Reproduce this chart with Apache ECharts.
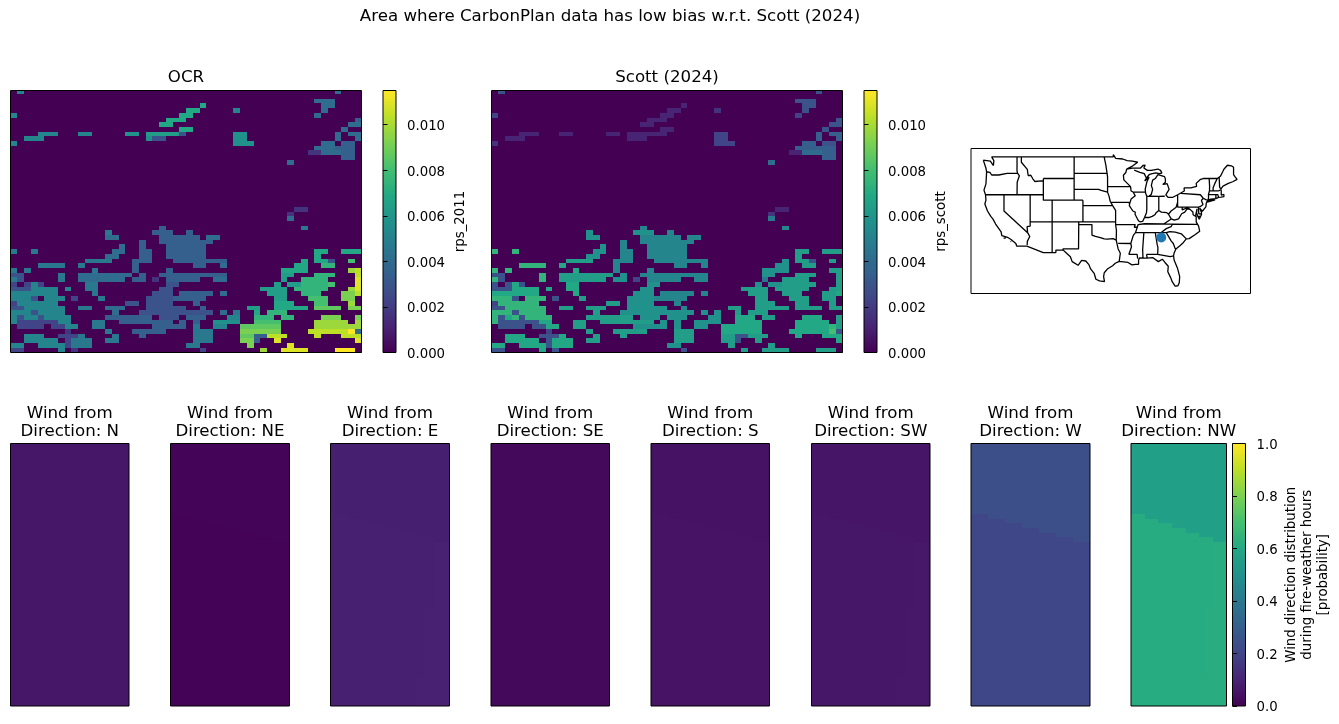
<!DOCTYPE html>
<html>
<head>
<meta charset="utf-8">
<style>html,body{margin:0;padding:0;background:#fff}#chart{width:1339px;height:724px}</style>
<script src="https://cdn.jsdelivr.net/npm/echarts@6/dist/echarts.min.js"></script>
</head>
<body>
<div id="chart"></div>
<script>
// Shared colour scale
const viridis = ['#440154','#482475','#414487','#355f8d','#2a788e','#21918c','#22a884','#44bf70','#7ad151','#bddf26','#fde725'];
const rpsMax = 0.0115;

// Burn-probability levels used by the gridded fields, letter -> rps
const rpsLevels = {a:0.00058,b:0.00115,c:0.00173,d:0.0023,e:0.00288,f:0.00345,g:0.00403,h:0.0046,i:0.00518,j:0.00575,k:0.00633,l:0.0069,m:0.00748,n:0.00805,o:0.00863,p:0.0092,q:0.00978,r:0.01035,s:0.01093,t:0.0115};
const gridCols = 52;

// Non-zero runs per row: "start-endLevel"
const rps2011Rows = [
"1i 48g","","45-47g","28l 46-47g","26-27l 33i 46g","0i 25-26l 45g","23-25l 51f","22-23l 50-51g","25-26l 49g",
"4-6i 10-11i 17-18j 20-24k 25e 33-34j 48g 50-51g","2-4i 20j 21-22e 33-34j 48g 51g","0i 33-35j 46-47g 49-50f",
"45-47g 48-50f","44-45c 46-48g 49-50f","49-50f","41g","","","","","","","","","","42-43c","41c","41g","",
"22f 43h","14h 21-23f 26f","14-15g 22-27f 29-30g","19f 22-29f","16g 19f 23-28f",
"0h 3h 15-16g 19-20f 23-28f 45-46l 49-51l","14-15g 19-20f 23-28f 45l",
"11-14h 18-20f 24-31f 43l 45-46l 47e 50n","4-7h 10h 18f 27-28f 31g 42-43l 46-47m",
"0h 2h 12h 18f 23f 40-43l 50q 51r","0-1e 7h 10-17g 19f 22-31f 40-41k 45-47m 51r",
"0h 1e 7h 10-16g 18-19f 21c 23-27f 30-31g 40k 43-46m 51s",
"0d 2d 3i 4d 11-12h 23-24e 39k 41-42k 43-46m 47n 51s",
"0-2e 3-6i 8i 11-12h 22-23e 37-40k 42-46m 50q 51s",
"0-6i 12h 21-23e 25-29f 31g 38-40k 43-45m 49-50p 51r",
"0-2i 3e 5-7i 9d 13h 20-23e 24-28f 39-40k 44-46n 49-50p",
"0d 1-6i 17-18e 20-23e 27f 39-41l 45-46n 50q",
"0-1e 2-7i 10-11h 14-16g 20-25e 28f 35-36k 39-43l 45-48o 50-51p",
"0-2i 3e 4-7i 15g 19-29e 31g 33h 36l 38-40m",
"0i 1e 2-3i 4e 5-8i 14-20f 22-24e 26-28f 32-33i 36-38m 40-41m 46-48p 51p",
"0i 1-6d 7-8i 12-13h 16-23f 25f 27f 30-33j 36-39n 45-49q 51q",
"1-4d 6-7d 8-9i 12-13h 21-25f 27h 30-31i 34-39o 45-50q 51q",
"8c 14h 18-22f 27-29h 34-39p 44-49r 50t 51g",
"2-4i 7-9d 10h 15h 19f 27-29h 34-35o 36-37f 38-40r 45r 49-50r 51r",
"2-6i 8d 9-11h 14-15h 27-29h 34-35p 36f 39s 51s",
"0-1i 4-7i 8d 9-11h 26-27h 35p 41s",
"0-1d 7i 9c 28d 37q 40-43s 48-50t"
];

const rpsScottRows = [
"1e 48e","","45-47e","28b 46-47e","26-27b 33c 46e","0d 25-26b 45d","23-25b 51e","22-23b 50-51e","25-26b 49e",
"4-6b 10-11b 17-18b 20-24b 25b 33-34d 48f 50-51f","2-4b 20b 21-22b 33-34d 48f 51f","0c 33-35d 46-47f 49-50e",
"45-47f 48-50f","44-45b 46-48g 49-50f","49-50f","41g","","","","","","","","","","42-43b","41c","41h","",
"22i 43i","14j 21-23j 26i","14-15j 22-27i 29-30i","19i 22-29i","16j 19i 23-28i",
"0m 3m 15-16j 19-20i 23-28i 45-46k 49-51k","14-15j 19-20i 23-28i 45k",
"11-14k 18-20i 24-31i 43j 45-46k 47e 50k","4-7m 10l 18i 27-28i 31i 42-43j 46-47k",
"0m 2m 12l 18i 23i 40-43j 50-51k","0-1e 7m 10-17k 19j 22-31i 40-41j 45-47k 51k",
"0m 1e 7m 10-16k 18-19j 21d 23-27i 30-31i 40h 43-46k 51k",
"0e 2e 3l 4e 11-12l 23-24j 39j 41-42j 43-47k 51k",
"0-2e 3-6l 8l 11-12l 22-23j 37-40k 42-46k 50-51k",
"0-6l 12l 21-23j 25-29i 31i 38-40k 43-45k 49-50k 51l",
"0-2m 3e 5-7m 9e 13k 20-23j 24-28i 39-40k 44-46k 49-50k",
"0d 1-6m 17-18k 20-23j 27i 39-41k 45-46k 50k",
"0-1e 2-7m 10-11k 14-16k 20-25j 28i 35-36k 39-43k 45-48k 50-51k",
"0-2m 3e 4-7m 15k 19-29j 31j 33j 36k 38-40k",
"0m 1e 2l 3m 4e 5-8m 14-20k 22-24j 26-28j 32-33j 36-38l 40-41k 46-48l 51k",
"0m 1-6e 7-8l 12-13k 16-23k 25j 27j 30-33j 36-39l 45-49l 51k",
"1-4e 6-7e 8-9l 12-13k 21-25j 27j 30-31j 34-39l 45-49l 50m 51k",
"8d 14k 18-22k 27-29k 34-39l 44-49l 50n 51e",
"2-4l 7-9e 10l 15k 19k 27-29k 34-35k 36-37e 38-40k 45l 49-50l 51l",
"2-6l 8e 9-11l 14-15k 27-29k 34-35k 36e 39k 51l",
"0-1l 4-7l 8e 9-11l 26-27j 35k 41k",
"0-1e 7l 9e 28e 37k 40-43k 48-50k"
];

// Wind rose probabilities per direction
const windDirections = ['N','NE','E','SE','S','SW','W','NW'];
const windNorth = [0.062,0.008,0.085,0.024,0.048,0.058,0.240,0.560];
const windSouth = [0.060,0.006,0.088,0.022,0.050,0.062,0.210,0.615];
const windEast  = [0.062,0.006,0.090,0.024,0.052,0.064,0.212,0.622];
const windRows = 56, windCols = 14;
// First row of the southern band in each pair of columns
const windBandRow = [15,16,17,18,19,20,21];
// First column of the eastern band, every five rows from row 20 down
const windEastCol = [12,12,12,11,11,11,10,10,10];

// State and coastline polylines, lon/lat
const usOutline = [[-124.7,48.4],[-123.1,48.2],[-122.4,47.4],[-122.3,48.3],[-122.8,49],[-95.15,49],[-95.15,49.4],[-94.8,49.3],[-94.6,48.7],[-93,48.6],[-92,48.3],[-90.8,48.2],[-89.6,48],[-90.8,47.3],[-92.1,46.75],[-90.8,46.9],[-90.4,46.55],[-89,46.9],[-88.4,47.4],[-87.9,47.45],[-88.2,46.95],[-87.4,46.5],[-86.5,46.5],[-85,46.75],[-84.4,46.5],[-84.1,46],[-84.7,45.9],[-85.5,46.05],[-86.5,45.85],[-87,45.7],[-87.6,45.1],[-88,44.55],[-87,45.25],[-87.5,44.4],[-87.9,43],[-87.8,42.3],[-87.5,41.7],[-87,41.7],[-86.5,42.1],[-86.2,43],[-86.5,43.7],[-86.2,44.7],[-85.6,45],[-85,45.7],[-84.7,45.78],[-83.5,45.35],[-83.3,44.9],[-83.3,44.3],[-83.9,43.9],[-83.4,43.95],[-82.9,44.05],[-82.45,43],[-82.9,42.4],[-83.2,42],[-83.45,41.72],[-82.7,41.5],[-81.7,41.5],[-80.5,42],[-79,42.7],[-78.9,43],[-79.05,43.27],[-77.5,43.27],[-76.2,43.55],[-76.3,44.1],[-75.3,44.85],[-74.7,45],[-71.5,45],[-71.3,45.3],[-70.8,45.4],[-70.3,46.2],[-70,46.7],[-69.2,47.45],[-68.3,47.35],[-67.8,47.07],[-67.8,45.7],[-67.45,45.3],[-67,44.85],[-68,44.4],[-69,44.1],[-70.2,43.6],[-70.7,43.05],[-70.8,42.85],[-70.6,42.65],[-71,42.3],[-70.6,41.95],[-70,42.05],[-70,41.65],[-70.65,41.55],[-71.2,41.5],[-71.4,41.45],[-71.85,41.3],[-73,41.2],[-73.7,40.95],[-74,40.7],[-74,40.45],[-74.1,39.75],[-74.9,38.95],[-75.5,39.5],[-75.1,38.75],[-75.1,38.3],[-75.6,37.5],[-75.95,37.15],[-75.9,37.95],[-76.2,38.7],[-76.1,39.4],[-76.5,39.2],[-76.4,38.3],[-76.3,37.9],[-76.3,37],[-76,36.9],[-75.75,36.2],[-75.5,35.25],[-76.5,34.65],[-77.9,33.9],[-78.55,33.85],[-79.2,33.2],[-80,32.6],[-80.9,32],[-81.3,31.3],[-81.45,30.7],[-81.3,29.9],[-80.55,28.45],[-80.05,26.9],[-80.15,25.75],[-80.45,25.2],[-81.1,25.15],[-81.75,25.95],[-82.1,26.7],[-82.75,27.8],[-82.65,28.8],[-83.4,29.5],[-84,30.1],[-84.9,29.65],[-85.35,29.7],[-86.2,30.4],[-87.5,30.3],[-88,30.3],[-88.05,30.65],[-88.15,30.35],[-89.2,30.35],[-89.6,30.2],[-89.4,29.9],[-89.4,29.15],[-90.1,29.15],[-90.9,29.05],[-91.8,29.5],[-92.3,29.55],[-93.8,29.7],[-94.7,29.35],[-95.3,28.9],[-96.4,28.35],[-97.2,27.6],[-97.35,26.9],[-97.15,25.95],[-98.3,26.1],[-99.1,26.4],[-99.5,27.5],[-100.3,28.3],[-100.7,29.1],[-101.4,29.77],[-102.35,29.88],[-102.7,29.7],[-103.15,28.98],[-104.5,29.65],[-104.9,30.55],[-106,31.4],[-106.53,31.78],[-108.2,31.78],[-108.2,31.33],[-111.07,31.33],[-114.8,32.5],[-114.72,32.72],[-117.12,32.53],[-117.3,33],[-118.4,33.75],[-118.5,34.03],[-119.2,34.15],[-120.5,34.45],[-120.65,35.15],[-121.9,36.6],[-122.5,37.5],[-122.5,37.8],[-123,38],[-123.75,39],[-124.35,40.3],[-124.1,41],[-124.2,42],[-124.55,42.85],[-124.1,44],[-123.95,46.2],[-124.1,46.9],[-124.7,48.4]];
const stateBorders = [
[[-124,46.25],[-123.2,46.15],[-122.8,45.65],[-121.2,45.65],[-119.3,45.93],[-119,46],[-116.92,46]],
[[-117.03,49],[-117.04,46.4],[-116.92,46],[-116.5,45.5],[-117,44.3],[-117.03,42]],
[[-124.2,42],[-111.05,42]],
[[-120,42],[-120,39],[-114.63,35],[-114.14,34.3],[-114.45,34],[-114.7,33.4],[-114.72,32.72]],
[[-114.63,35],[-114.75,36.1],[-114.05,36.2],[-114.05,37]],
[[-114.05,42],[-114.05,37]],
[[-114.05,37],[-94.62,37]],
[[-109.05,41],[-109.05,31.33]],
[[-111.05,45],[-111.05,41],[-102.05,41]],
[[-111.05,45],[-104.05,45]],
[[-104.05,49],[-104.05,41]],
[[-116.05,49],[-116.05,48],[-114.7,46.7],[-114.35,46.65],[-114.5,45.55],[-113.9,45.6],[-113.45,44.95],[-113,44.45],[-111.5,44.55],[-111.05,44.5]],
[[-104.05,45.94],[-96.56,45.94]],
[[-104.05,43],[-98.5,43],[-97.9,42.8],[-96.45,42.49]],
[[-102.05,41],[-102.05,37]],
[[-102.05,40],[-95.3,40]],
[[-103,37],[-103.05,32],[-106.6,32],[-106.53,31.78]],
[[-103,36.5],[-100,36.5],[-100,34.56],[-99.2,34.3],[-98.1,34.1],[-97.2,33.85],[-96.5,33.8],[-95.2,33.9],[-94.48,33.64]],
[[-94.62,36.5],[-94.43,35.4],[-94.48,33.64],[-94.04,33.55],[-94.04,31.99],[-93.55,31.2],[-93.8,29.7]],
[[-94.04,33.02],[-91.17,33],[-91,32.4],[-91.6,31],[-89.73,31],[-89.6,30.2]],
[[-95.3,40],[-94.62,39.1],[-94.62,36.5],[-90.15,36.5],[-90.37,36],[-89.7,36]],
[[-95.77,40.58],[-91.73,40.6],[-91.42,40.38]],
[[-96.45,43.5],[-96.45,42.49],[-96.1,41.7],[-95.85,40.8],[-95.3,40]],
[[-96.45,43.5],[-91.22,43.5]],
[[-97.23,49],[-96.85,47.5],[-96.56,45.94],[-96.85,45.6],[-96.45,45.3],[-96.45,43.5]],
[[-92.1,46.75],[-92.3,46.1],[-92.85,45.6],[-92.75,44.75],[-91.22,43.5],[-91.1,42.7],[-90.64,42.5],[-90.15,41.8],[-91.1,41.2],[-91.42,40.38],[-91.5,40],[-90.7,39],[-90.15,38.8],[-90.2,38.4],[-89.5,37.3],[-89.15,37]],
[[-90.64,42.5],[-87.8,42.5]],
[[-90.4,46.55],[-89.1,46.15],[-88.1,45.9],[-87.8,45.35],[-87.6,45.1]],
[[-87.53,41.7],[-87.53,39.35],[-87.6,38.7],[-88.05,37.8]],
[[-89.15,37],[-88.45,37.1],[-88.05,37.8],[-87.1,37.8],[-86.3,38],[-85.7,38.3],[-85.4,38.7],[-84.8,39.1],[-84.2,38.8],[-83,38.7],[-82.6,38.4]],
[[-84.8,39.1],[-84.8,41.7]],
[[-87,41.76],[-84.8,41.7],[-83.45,41.72]],
[[-82.6,38.4],[-82,39],[-81.7,39.2],[-80.85,39.7],[-80.52,40.64],[-80.52,42]],
[[-79.76,42.25],[-79.76,42],[-75.35,42],[-74.7,41.36],[-73.9,41]],
[[-80.52,40.64],[-80.52,39.72],[-75.79,39.72],[-75.7,38.46],[-75.05,38.45]],
[[-74.7,41.36],[-75.1,40.95],[-75.2,40.65],[-74.75,40.2],[-75.4,39.8],[-75.79,39.72]],
[[-75.9,37.95],[-75.25,38.03]],
[[-76.3,37.95],[-77,38.3],[-77.05,38.8],[-77.7,39.3],[-78.3,39.6],[-79.48,39.2],[-79.48,39.72]],
[[-77.7,39.3],[-78.35,39.4],[-78.9,38.8],[-79.6,38.5],[-80.3,37.55],[-81.3,37.3],[-81.97,37.54],[-83.68,36.6]],
[[-82.6,38.4],[-82.6,38.1],[-81.97,37.54]],
[[-75.9,36.55],[-81.68,36.59],[-83.68,36.6],[-88.07,36.65],[-88.07,36.5],[-89.5,36.5],[-89.7,36],[-90.1,35],[-90.6,34.5],[-91.17,33]],
[[-90.1,35],[-83.1,35],[-82.3,35.2],[-81.05,35.1],[-80.8,34.82],[-79.68,34.8],[-78.55,33.85]],
[[-81.68,36.59],[-82,36.1],[-83.1,35.75],[-84.32,35]],
[[-83.1,35],[-83.35,34.7],[-82,33.5],[-81.5,33],[-81.1,32.1],[-80.9,32]],
[[-88.2,35],[-88.47,31.9],[-88.4,30.35]],
[[-85.6,35],[-85.18,32.87],[-85,32.3],[-85.05,31],[-84.86,30.7],[-82.2,30.57],[-82.05,30.36],[-82,30.75],[-81.45,30.7]],
[[-87.6,31],[-85.05,31]],
[[-87.6,31],[-87.45,30.4]],
[[-73.35,45],[-73.25,43.6],[-73.27,42.75],[-73.5,42.05],[-73.5,41.3],[-73.7,41]],
[[-71.5,45],[-72.05,44.1],[-72.45,43.3],[-72.45,42.73]],
[[-73.27,42.75],[-71.3,42.7],[-70.85,42.87]],
[[-71.08,45.3],[-70.97,43.4],[-70.7,43.07]],
[[-73.5,42.05],[-71.38,42.02],[-71.2,41.5]],
[[-71.8,42.02],[-71.85,41.3]],
[[-74,40.6],[-72,41.05],[-73.7,40.87],[-74,40.6]],
[[-120.1,34],[-119.6,34]],
[[-118.5,33.4],[-118.35,33.35]]
];
const siteLocation = [-84.25,34.1];

// Layout of the axes boxes
const layout = {
  ocr:{left:10.5,top:90.5,width:351,height:262},
  ocrBar:{left:383,top:90.5,width:13,height:262},
  scott:{left:491.5,top:90.5,width:351,height:262},
  scottBar:{left:864,top:90.5,width:13,height:262},
  map:{left:971,top:148.5,width:279.5,height:145},
  wind:[
    {left:10.5,width:118.5},{left:170.5,width:119},{left:330.5,width:119},{left:491,width:118.5},
    {left:651,width:118.5},{left:811.5,width:118.5},{left:971,width:119},{left:1131,width:95.5}
  ],
  windTop:443.5, windHeight:262.5,
  windBar:{left:1232.5,top:443.5,width:13,height:262.5}
};

const topRowTrim = 0.25;

function expandRows(rows){
  const out = [];
  rows.forEach((line,r)=>{
    const cells = new Array(gridCols).fill(0);
    line.split(' ').filter(Boolean).forEach(tok=>{
      const m = tok.match(/^(\d+)(?:-(\d+))?([a-t])$/);
      const a = +m[1], b = m[2]===undefined ? a : +m[2];
      for(let c=a;c<=b;c++) cells[c] = rpsLevels[m[3]];
    });
    cells.forEach((v,c)=>out.push([c,r,v]));
  });
  return out;
}

function windCells(d){
  const out=[];
  for(let r=0;r<windRows;r++){
    for(let c=0;c<windCols;c++){
      const band = windBandRow[Math.floor(c/2)];
      let v = windNorth[d];
      if(r>=band){
        const e = windEastCol[Math.min(windEastCol.length-1,Math.floor(Math.max(r-20,0)/5))];
        v = c>=e ? windEast[d] : windSouth[d];
      }
      out.push([c,r,v]);
    }
  }
  return out;
}

function barCells(maxValue){
  const out=[];
  for(let i=0;i<256;i++) out.push([0,i,maxValue*(i+0.5)/256]);
  return out;
}

function rectOf(api,x0,y0,x1,y1,fill){
  const a=api.coord([x0,y0]), b=api.coord([x1,y1]);
  const l=Math.round(Math.min(a[0],b[0])), r=Math.round(Math.max(a[0],b[0]));
  const t=Math.round(Math.min(a[1],b[1])), u=Math.round(Math.max(a[1],b[1]));
  return {type:'rect',shape:{x:l,y:t,width:r-l,height:u-t},style:{fill:fill},silent:true};
}
function rpsCell(p,api){
  const x=api.value(0), y=api.value(1);
  return rectOf(api,x,Math.max(0,y-topRowTrim),x+1,y+1-topRowTrim,api.visual('color'));
}
function windCell(p,api){
  const x=api.value(0), y=api.value(1);
  return rectOf(api,x,y,x+1,y+1,api.visual('color'));
}
function barCell(maxValue){
  return function(p,api){
    const i=api.value(1);
    return rectOf(api,0,maxValue*i/256,1,maxValue*(i+1)/256,api.visual('color'));
  };
}

const grids=[], xAxes=[], yAxes=[], series=[], titles=[], frames=[];
const fontFamily='"DejaVu Sans"';

function addFrame(g){
  frames.push({type:'rect',z:100,silent:true,shape:{x:g.left,y:g.top,width:g.width,height:g.height},style:{fill:null,stroke:'#000',lineWidth:1}});
}
function addGrid(g,xr,yr,inverse){
  grids.push({left:g.left,top:g.top,width:g.width,height:g.height,outerBoundsMode:'none'});
  const i=grids.length-1;
  xAxes.push({type:'value',gridIndex:i,min:xr[0],max:xr[1],show:false});
  yAxes.push({type:'value',gridIndex:i,min:yr[0],max:yr[1],inverse:!!inverse,show:false});
  addFrame(g);
  return i;
}
function addTitle(text,cx,top,size){
  titles.push({text:text,left:cx,top:top,textAlign:'center',padding:0,
    textStyle:{fontFamily:fontFamily,fontSize:size,fontWeight:'normal',color:'#000',lineHeight:18}});
}
function addCustom(i,renderItem,data){
  series.push({type:'custom',xAxisIndex:i,yAxisIndex:i,coordinateSystem:'cartesian2d',renderItem:renderItem,data:data,
    encode:{x:0,y:1},animation:false,progressive:0,silent:true,clip:true});
  return series.length-1;
}
function addColorbar(g,maxValue,ticks,digits,name,nameGap){
  grids.push({left:g.left,top:g.top,width:g.width,height:g.height,outerBoundsMode:'none'});
  const i=grids.length-1;
  xAxes.push({type:'value',gridIndex:i,min:0,max:1,show:false});
  yAxes.push({type:'value',gridIndex:i,min:0,max:maxValue,position:'right',z:5,
    splitLine:{show:false},axisLine:{show:false},
    axisTick:{show:true,length:4.5,inside:false,customValues:ticks,lineStyle:{color:'#000',width:1}},
    axisLabel:{show:true,customValues:ticks,margin:11,
      formatter:v=>'{t|'+Number(v).toFixed(digits)+'}',
      rich:{t:{color:'#000',fontFamily:fontFamily,fontSize:13.3,padding:[4,0,0,0]}}},
    name:name,nameLocation:'middle',nameRotate:90,nameGap:nameGap,
    nameTextStyle:{color:'#000',fontFamily:fontFamily,fontSize:13.3,lineHeight:16}});
  addFrame(g);
  return addCustom(i,barCell(maxValue),barCells(maxValue));
}

const rpsSeries=[], windSeries=[];
const rpsTicks=[0,0.002,0.004,0.006,0.008,0.01];
const windTicks=[0,0.2,0.4,0.6,0.8,1];

// Fire-risk panels
rpsSeries.push(addCustom(addGrid(layout.ocr,[0,gridCols],[0,rps2011Rows.length-topRowTrim],true),rpsCell,expandRows(rps2011Rows)));
rpsSeries.push(addColorbar(layout.ocrBar,rpsMax,rpsTicks,3,'rps_2011',57));
rpsSeries.push(addCustom(addGrid(layout.scott,[0,gridCols],[0,rpsScottRows.length-topRowTrim],true),rpsCell,expandRows(rpsScottRows)));
rpsSeries.push(addColorbar(layout.scottBar,rpsMax,rpsTicks,3,'rps_scott',57));
addTitle('OCR',layout.ocr.left+layout.ocr.width/2,69,16.67);
addTitle('Scott (2024)',layout.scott.left+layout.scott.width/2,69,16.67);
addTitle('Area where CarbonPlan data has low bias w.r.t. Scott (2024)',610,8,16.67);

// Locator map
const mapIndex=addGrid(layout.map,[-127.5,-63.95],[23.77,50.54],false);
const mapLines=[];
[usOutline].concat(stateBorders).forEach(line=>{
  line.forEach(p=>mapLines.push(p));
  mapLines.push(['-','-']);
});
series.push({type:'line',xAxisIndex:mapIndex,yAxisIndex:mapIndex,data:mapLines,showSymbol:false,symbol:'none',
  lineStyle:{color:'#000',width:1.3},animation:false,silent:true,connectNulls:false,z:3});
series.push({type:'scatter',xAxisIndex:mapIndex,yAxisIndex:mapIndex,data:[siteLocation],symbolSize:10,
  itemStyle:{color:'#1f77b4',opacity:1},animation:false,silent:true,z:4});

// Wind-direction panels
windDirections.forEach((dir,d)=>{
  const w=layout.wind[d];
  const g={left:w.left,top:layout.windTop,width:w.width,height:layout.windHeight};
  windSeries.push(addCustom(addGrid(g,[0,windCols],[0,windRows],true),windCell,windCells(d)));
  addTitle('Wind from\nDirection: '+dir,w.left+w.width/2,405,16.67);
});
windSeries.push(addColorbar(layout.windBar,1,windTicks,1,'Wind direction distribution\nduring fire-weather hours\n[probability]',38));

const chart=echarts.init(document.getElementById('chart'),null,{renderer:'canvas',width:1339,height:724});
chart.setOption({
  animation:false,
  backgroundColor:'#fff',
  title:titles,
  grid:grids,
  xAxis:xAxes,
  yAxis:yAxes,
  tooltip:{show:false},
  visualMap:[
    {type:'continuous',show:false,min:0,max:rpsMax,dimension:2,seriesIndex:rpsSeries,inRange:{color:viridis}},
    {type:'continuous',show:false,min:0,max:1,dimension:2,seriesIndex:windSeries,inRange:{color:viridis}}
  ],
  series:series,
  graphic:{elements:frames}
});
</script>
</body>
</html>
